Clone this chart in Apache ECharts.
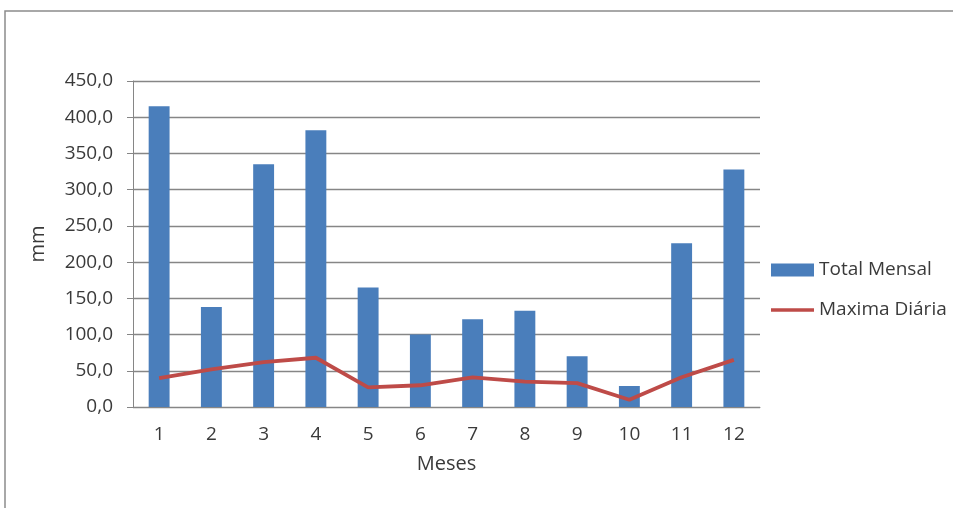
<!DOCTYPE html>
<html><head><meta charset="utf-8">
<script src="https://cdn.jsdelivr.net/npm/echarts@6/dist/echarts.min.js"></script>
<style>html,body{margin:0;padding:0;background:#fff}#c{width:953px;height:508px}</style>
</head><body><div id="c"></div>
<script>
const categories = ['1','2','3','4','5','6','7','8','9','10','11','12'];
const totalMensal = [415, 138, 335, 382, 165, 100, 121, 133, 70, 29, 226, 328];
const maximaDiaria = [40, 52, 62, 68, 27, 30, 41, 35, 33, 10, 41, 65];
const seriesNames = ['Total Mensal', 'Maxima Diária'];

const chart = echarts.init(document.getElementById('c'));
const font = '"Open Sans", "Noto Sans", sans-serif';
const txt = '#3a3a3a';
chart.setOption({
  animation: false,
  graphic: [{type:'rect', shape:{x:5, y:11, width:1000, height:600}, style:{fill:'none', stroke:'#8c8c8c', lineWidth:1.5}}],
  grid: {left:133, right:193, top:81, bottom:101},
  legend: {
    orient:'vertical', left:766, top:255, itemGap:20, itemWidth:43, itemHeight:13,
    textStyle:{fontFamily:font, fontSize:19, color:txt, lineHeight:20, padding:[0,0,0,0]},
    data:[{name:seriesNames[0], icon:'rect'}, {name:seriesNames[1], icon:'path://M0,0 L43,0 L43,3.5 L0,3.5 Z'}]
  },
  xAxis: {
    type:'category', data:categories, name:'Meses', nameLocation:'middle', nameGap:47,
    nameTextStyle:{fontFamily:font, fontSize:20, color:txt},
    axisLine:{lineStyle:{color:'#868686'}}, axisTick:{show:false},
    axisLabel:{fontFamily:font, fontSize:19, color:txt, margin:18}
  },
  yAxis: {
    type:'value', min:0, max:450, interval:50, name:'mm', nameLocation:'middle', nameGap:85,
    nameTextStyle:{fontFamily:font, fontSize:20, color:txt},
    axisLine:{show:true, lineStyle:{color:'#868686'}}, axisTick:{show:true, length:6, lineStyle:{color:'#868686'}},
    splitLine:{lineStyle:{color:'#868686', width:1.3}},
    axisLabel:{fontFamily:font, fontSize:19, color:txt, margin:20, formatter:v=>v.toFixed(1).replace('.',',')}
  },
  series: [
    {name:seriesNames[0], type:'bar', data:totalMensal, barWidth:'40%', itemStyle:{color:'#4A7EBB'}},
    {name:seriesNames[1], type:'line', data:maximaDiaria, symbol:'none', lineStyle:{color:'#BE4B48', width:3.8}, itemStyle:{color:'#BE4B48'}}
  ]
});
</script></body></html>
